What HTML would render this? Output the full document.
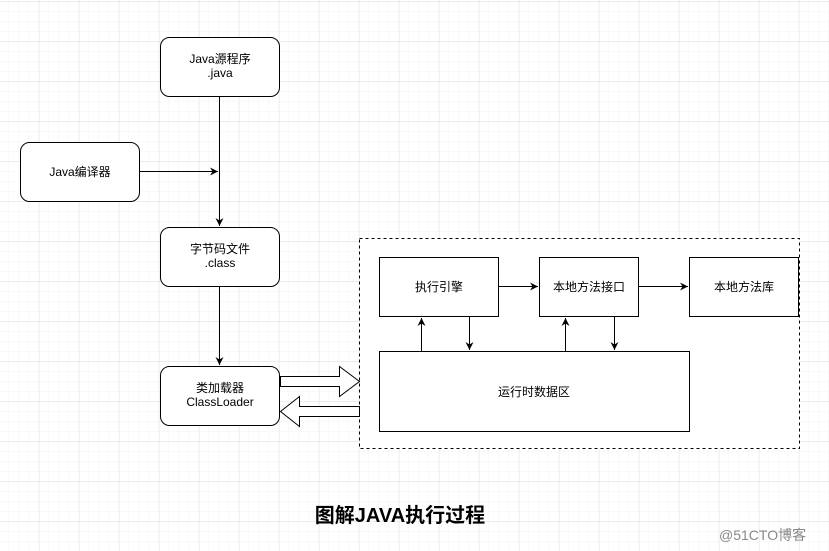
<!DOCTYPE html>
<html><head><meta charset="utf-8"><style>
html,body{margin:0;padding:0;background:#fff}
svg{display:block}
text{font-family:"Liberation Sans","Noto Sans CJK SC",sans-serif;font-size:12px;fill:#000}
</style></head><body>
<svg width="829" height="551" viewBox="0 0 829 551" xmlns="http://www.w3.org/2000/svg">
<defs>
<pattern id="mi" width="10" height="10" patternUnits="userSpaceOnUse" x="-0.5" y="0.5">
<path d="M10 0V10M0 10H10" stroke="#f3f3f3" stroke-width="1" fill="none"/>
</pattern>
<pattern id="ma" width="40" height="40" patternUnits="userSpaceOnUse" x="-0.5" y="1.5">
<rect width="40" height="40" fill="url(#mi)"/>
<path d="M40 0V40M0 40H40" stroke="#e6e6e6" stroke-width="1" fill="none"/>
</pattern>
<marker id="ar" markerWidth="10" markerHeight="10" refX="8" refY="5" orient="auto" markerUnits="userSpaceOnUse">
<path d="M0 1L8 5L0 9L2.5 5Z" fill="#000"/>
</marker>
</defs>
<rect width="829" height="551" fill="url(#ma)"/>
<g fill="#fff" stroke="#000" stroke-width="1">
<rect x="160.5" y="37.5" width="119" height="59" rx="9"/>
<rect x="20.5" y="142.5" width="119" height="59" rx="9"/>
<rect x="160.5" y="227.5" width="119" height="59" rx="9"/>
<rect x="160.5" y="366.5" width="119" height="59" rx="9"/>
<rect x="359.5" y="238.5" width="440" height="210" stroke-dasharray="3,3"/>
<rect x="379.5" y="257.5" width="119" height="59"/>
<rect x="539.5" y="257.5" width="99" height="59"/>
<rect x="689.5" y="257.5" width="109" height="59"/>
<rect x="379.5" y="351.5" width="310" height="80"/>
<path d="M280.5 376.5H339.5V366.5L359.5 381.5L339.5 396.5V386.5H280.5Z"/>
<path d="M359.5 406.5H299.5V396.5L280.5 411.5L299.5 426.5V416.5H359.5Z"/>
</g>
<g stroke="#000" stroke-width="1" fill="none" marker-end="url(#ar)">
<path d="M219.5 97V226"/>
<path d="M140 171.5H218"/>
<path d="M219.5 287V365"/>
<path d="M499 286.5H538"/>
<path d="M639 286.5H688"/>
<path d="M421.5 351V318"/>
<path d="M469.5 317V350"/>
<path d="M565.5 351V318"/>
<path d="M614.5 317V350"/>
</g>
<g text-anchor="middle">
<text x="220" y="63">Java源程序</text><text x="220" y="77">.java</text>
<text x="80" y="176">Java编译器</text>
<text x="220" y="253">字节码文件</text><text x="220" y="267">.class</text>
<text x="220" y="392">类加载器</text><text x="220" y="406">ClassLoader</text>
<text x="439" y="291">执行引擎</text>
<text x="589" y="291">本地方法接口</text>
<text x="744" y="291">本地方法库</text>
<text x="534" y="396">运行时数据区</text>
<text x="400" y="522" style="font-size:20px;font-weight:bold">图解JAVA执行过程</text>
</g>
<text x="719" y="540" style="font-size:14px;fill:#888">@51CTO博客</text>
</svg>
</body></html>
